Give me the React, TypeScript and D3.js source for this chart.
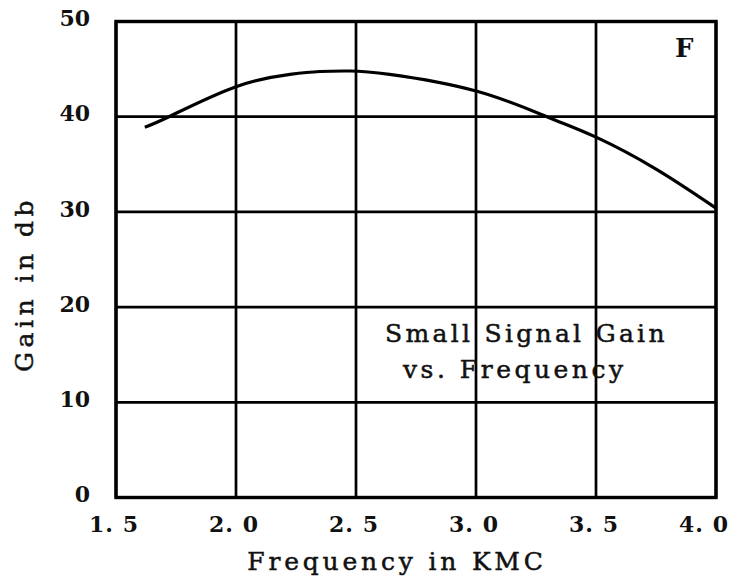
import React from "react";
import * as d3 from "d3";

const freqs = [1.62, 1.725, 2.0, 2.225, 2.35, 2.475, 2.64, 3.0, 3.3, 3.5, 3.75, 4.0];
const gains = [38.9, 40.05, 43.15, 44.45, 44.75, 44.8, 44.45, 42.7, 39.95, 37.85, 34.5, 30.4];
const xTicks = [1.5, 2.0, 2.5, 3.0, 3.5, 4.0];
const xTickLabels = ["1. 5", "2. 0", "2. 5", "3. 0", "3. 5", "4. 0"];
const yTicks = [0, 10, 20, 30, 40, 50];
const xTitle = "Frequency in KMC";
const yTitle = "Gain in db";
const noteLines = ["Small Signal Gain", "vs. Frequency"];
const panelLabel = "F";

export default function App() {
  const W = 742, H = 580;
  const x = d3.scaleLinear().domain([1.5, 4.0]).range([116, 716]);
  const y = d3.scaleLinear().domain([0, 50]).range([497.5, 21.5]);
  const pts = freqs.map((f, i) => [f, gains[i]] as [number, number]);
  const line = d3.line<[number, number]>().x(d => x(d[0])).y(d => y(d[1])).curve(d3.curveNatural);
  const font = "'DejaVu Serif', serif";
  const thick = { stroke: "#111", strokeWidth: 0.5 };
  return (
    <svg width={W} height={H} style={{ position: "absolute", left: 0, top: 0, background: "#fff" }}>
      {xTicks.map(t => (
        <line key={"gx" + t} x1={x(t)} x2={x(t)} y1={y(0)} y2={y(50)} stroke="#000" strokeWidth={2.7} />
      ))}
      {yTicks.map(t => (
        <line key={"gy" + t} x1={x(1.5)} x2={x(4.0)} y1={y(t)} y2={y(t)} stroke="#000" strokeWidth={2.7} />
      ))}
      <rect x={x(1.5)} y={y(50)} width={x(4.0) - x(1.5)} height={y(0) - y(50)} fill="none" stroke="#000" strokeWidth={3.4} />
      <path d={line(pts) || ""} fill="none" stroke="#000" strokeWidth={3.2} />
      {yTicks.map(t => (
        <text key={"ly" + t} x={90} y={y(t) - 3} dy="0.35em" textAnchor="end" fontFamily={font} fontWeight="bold" fontSize={22} fill="#111">{t}</text>
      ))}
      {xTicks.map((t, i) => (
        <text key={"lx" + t} x={Math.min(x(t) - 2, W - 38)} y={532} textAnchor="middle" fontFamily={font} fontWeight="bold" fontSize={22} letterSpacing={1} fill="#111" style={{ whiteSpace: "pre" }}>{xTickLabels[i]}</text>
      ))}
      <text x={397} y={570} textAnchor="middle" fontFamily={font} fontSize={25} letterSpacing={3.8} fill="#111" {...thick}>{xTitle}</text>
      <text transform={`translate(33,284) rotate(-90)`} textAnchor="middle" fontFamily={font} fontSize={25} letterSpacing={4.5} fill="#111" {...thick}>{yTitle}</text>
      <text x={385} y={342} fontFamily={font} fontSize={25} letterSpacing={3.3} fill="#111" {...thick}>{noteLines[0]}</text>
      <text x={403} y={378} fontFamily={font} fontSize={25} letterSpacing={3.5} fill="#111" {...thick}>{noteLines[1]}</text>
      <text x={675} y={57} fontFamily={font} fontWeight="bold" fontSize={26} fill="#111">{panelLabel}</text>
    </svg>
  );
}
